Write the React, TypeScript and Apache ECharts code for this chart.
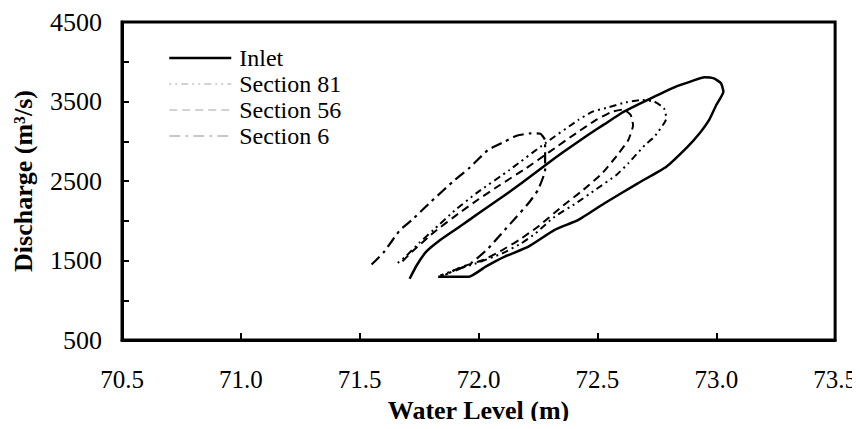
import React, { useEffect, useRef } from "react";
import * as echarts from "echarts";

const seriesNames = ["Inlet", "Section 81", "Section 56", "Section 6"];

const xTicks = [70.5, 71.0, 71.5, 72.0, 72.5, 73.0, 73.5];
const yTickLabels = [500, 1500, 2500, 3500, 4500];

const inlet: number[][] = [
  [71.71, 1270], [71.74, 1440], [71.78, 1611], [71.84, 1760], [71.90, 1884],
  [71.97, 2030], [72.04, 2177], [72.11, 2320], [72.18, 2471], [72.25, 2630],
  [72.32, 2786], [72.39, 2935], [72.46, 3079], [72.53, 3215], [72.60, 3352],
  [72.67, 3460], [72.74, 3561], [72.83, 3687], [72.90, 3760], [72.95, 3804],
  [72.99, 3790], [73.02, 3729], [73.03, 3624], [73.00, 3456], [72.97, 3268],
  [72.93, 3100], [72.88, 2932], [72.79, 2680], [72.67, 2471], [72.53, 2220],
  [72.42, 2010], [72.32, 1884], [72.21, 1674], [72.11, 1548], [72.03, 1422],
  [71.96, 1296], [71.83, 1296],
];

const section81: number[][] = [
  [71.66, 1470], [71.69, 1540], [71.75, 1720], [71.81, 1884], [71.90, 2130],
  [71.99, 2345], [72.13, 2639], [72.28, 2974], [72.42, 3268], [72.48, 3373],
  [72.55, 3430], [72.62, 3490], [72.69, 3519], [72.74, 3498], [72.78, 3415],
  [72.79, 3289], [72.74, 3058], [72.70, 2953], [72.63, 2723], [72.58, 2576],
  [72.49, 2387], [72.41, 2220], [72.32, 2051], [72.24, 1842], [72.18, 1716],
  [72.10, 1590], [71.99, 1465], [71.90, 1381], [71.84, 1310],
];

const section56: number[][] = [
  [71.68, 1490], [71.72, 1610], [71.81, 1850], [71.92, 2100], [72.00, 2270],
  [72.09, 2450], [72.20, 2660], [72.30, 2870], [72.41, 3100], [72.49, 3260],
  [72.56, 3370], [72.61, 3400], [72.64, 3330], [72.65, 3200], [72.63, 3016],
  [72.59, 2849], [72.52, 2597], [72.44, 2387], [72.35, 2177], [72.25, 1925],
  [72.17, 1758], [72.10, 1632], [72.02, 1506], [71.93, 1422], [71.86, 1320],
];

const section6: number[][] = [
  [71.55, 1450], [71.60, 1600], [71.67, 1884], [71.72, 2010], [71.80, 2240],
  [71.90, 2513], [71.96, 2660], [72.04, 2890], [72.11, 2995], [72.16, 3070],
  [72.22, 3100], [72.26, 3095], [72.28, 3010], [72.28, 2640], [72.25, 2387],
  [72.21, 2220], [72.16, 2050], [72.11, 1884], [72.04, 1650], [71.97, 1470],
  [71.90, 1370], [71.84, 1310],
];

const seriesData = [inlet, section81, section56, section6];
const lineDashes: (string | number[])[] = ["solid", [2, 4, 2, 4, 7, 4], [8, 5], [11, 5, 3, 5]];
const lineWidths = [2.5, 2, 2, 2.2];
const legendLineColors = ["#000", "#c4c4c4", "#c4c4c4", "#b8b8b8"];

const FONT = "Liberation Serif";

export default function App() {
  const ref = useRef<HTMLDivElement>(null);
  useEffect(() => {
    if (!ref.current) return;
    const chart = echarts.init(ref.current, undefined, { renderer: "svg" });
    chart.setOption({
      animation: false,
      backgroundColor: "#fff",
      grid: {
        left: 122,
        right: 24,
        top: 22,
        bottom: 89,
        show: true,
        borderColor: "#000",
        borderWidth: 3,
      },
      legend: {
        orient: "vertical",
        left: 168,
        top: 46,
        padding: 0,
        itemGap: 2,
        itemWidth: 62,
        itemHeight: 14,
        data: seriesNames.map((name, i) => ({
          name,
          lineStyle: { color: legendLineColors[i], width: i === 0 ? 2.5 : 1.6 },
        })),
        itemStyle: { opacity: 0 },
        textStyle: {
          fontFamily: FONT,
          fontSize: 24,
          lineHeight: 24,
          color: "#000",
          padding: [0, 0, 0, 3],
        },
      },
      xAxis: {
        type: "value",
        min: xTicks[0],
        max: xTicks[xTicks.length - 1],
        interval: 0.5,
        name: "Water Level (m)",
        nameLocation: "middle",
        nameGap: 57,
        nameTextStyle: { fontFamily: FONT, fontSize: 26, fontWeight: "bold", color: "#000" },
        axisLine: { show: true, lineStyle: { color: "#000", width: 3 } },
        axisTick: { show: true, inside: true, length: 7, lineStyle: { color: "#000", width: 2 } },
        axisLabel: {
          fontFamily: FONT,
          fontSize: 25,
          color: "#000",
          margin: 27,
          formatter: (v: number) => v.toFixed(1),
        },
        splitLine: { show: false },
      },
      yAxis: {
        type: "value",
        min: 500,
        max: 4500,
        interval: 500,
        name: "Discharge (m³/s)",
        nameLocation: "middle",
        nameGap: 86,
        nameTextStyle: { fontFamily: FONT, fontSize: 26, fontWeight: "bold", color: "#000" },
        axisLine: { show: true, lineStyle: { color: "#000", width: 3 } },
        axisTick: { show: true, inside: true, length: 7, lineStyle: { color: "#000", width: 2 } },
        axisLabel: {
          fontFamily: FONT,
          fontSize: 26,
          color: "#000",
          margin: 20,
          formatter: (v: number) => (yTickLabels.indexOf(v) >= 0 ? String(v) : ""),
        },
        splitLine: { show: false },
      },
      series: seriesNames.map((name, i) => ({
        name,
        type: "line",
        data: seriesData[i],
        symbol: "none",
        smooth: 0.15,
        color: "#000",
        lineStyle: { color: "#000", width: lineWidths[i], type: lineDashes[i] },
      })),
    });
    return () => chart.dispose();
  }, []);
  return <div ref={ref} style={{ width: 860, height: 429, margin: -8 }} />;
}
